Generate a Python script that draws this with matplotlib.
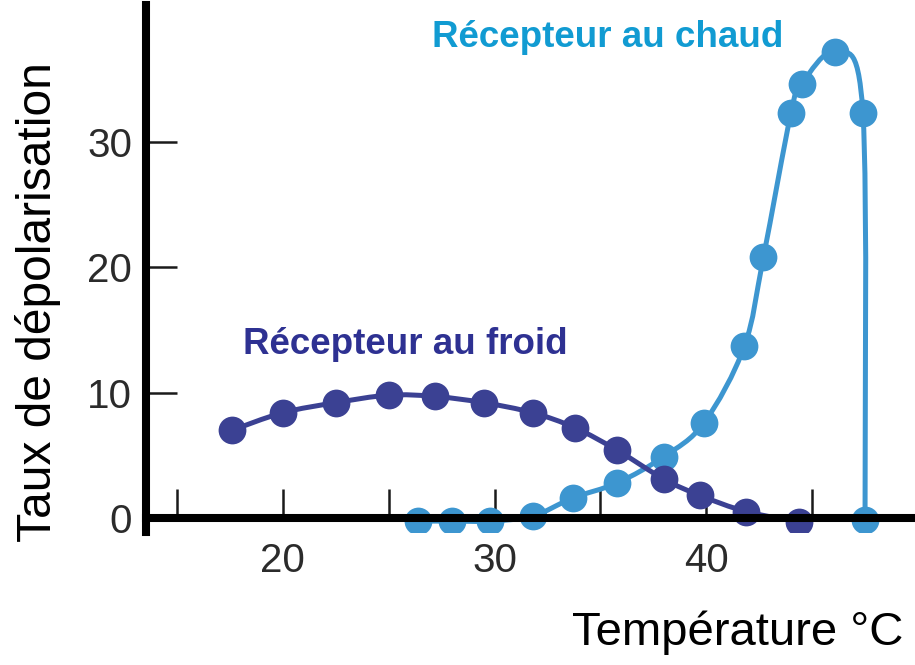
import numpy as np
import matplotlib
matplotlib.use("Agg")
import matplotlib.pyplot as plt
from matplotlib.path import Path
from matplotlib.patches import PathPatch

plt.rcParams['font.family'] = ['Liberation Sans', 'DejaVu Sans']

# donnees
cold_t = [17.6, 20.0, 22.5, 25.0, 27.2, 29.5, 31.8, 33.8, 35.8, 38.0, 39.7, 41.9, 44.4]
cold_v = [7.0, 8.4, 9.2, 9.8, 9.7, 9.2, 8.4, 7.2, 5.4, 3.1, 1.8, 0.5, -0.3]

hot_t = [26.4, 28.0, 29.8, 31.8, 33.7, 35.8, 38.0, 39.9, 41.8, 42.7, 44.0, 44.5, 46.1, 47.4, 47.5]
hot_v = [-0.25, -0.25, -0.25, 0.15, 1.6, 2.8, 4.9, 7.6, 13.7, 20.8, 32.3, 34.6, 37.2, 32.3, -0.15]

xticks_major = [20, 30, 40]
xticks_minor = [15, 25, 35, 45]
yticks = [0, 10, 20, 30]

cold_col = '#3b4193'
hot_col = '#3d96d0'


def smooth_path(xs, ys):
    # catmull-rom -> bezier cubique
    p = np.column_stack([xs, ys]).astype(float)
    p = np.vstack([p[0], p, p[-1]])
    verts = [p[1]]
    codes = [Path.MOVETO]
    for i in range(1, len(p) - 2):
        b1 = p[i] + (p[i + 1] - p[i - 1]) / 6
        b2 = p[i + 1] - (p[i + 2] - p[i]) / 6
        verts += [b1, b2, p[i + 1]]
        codes += [Path.CURVE4] * 3
    return Path(verts, codes)


fig = plt.figure(figsize=(9.15, 6.65), dpi=100)
ax = fig.add_axes([146 / 915, 0.2, 1 - 146 / 915, 0.7925])
ax.set_xlim(13.54, 49.86)
ax.set_ylim(-1.12, 40.94)
ax.set_axisbelow(True)

for xs, ys, c in [(hot_t, hot_v, hot_col), (cold_t, cold_v, cold_col)]:
    ax.add_patch(PathPatch(smooth_path(xs, ys), fill=False, edgecolor=c, lw=3.6, zorder=2))
    ax.plot(xs, ys, 'o', color=c, ms=20, mec='none', zorder=2.1)

for s in ['top', 'right']:
    ax.spines[s].set_visible(False)
ax.spines['bottom'].set_position(('data', 0))
ax.spines['bottom'].set_linewidth(5.8)
ax.spines['left'].set_linewidth(5.8)

ax.set_xticks(xticks_major)
ax.set_xticks(xticks_minor, minor=True)
ax.set_yticks(yticks)
ax.tick_params(axis='x', which='both', direction='in', length=21, width=1.8,
               color='#1a1a1a', pad=17, labelsize=29, labelcolor='#2b2b2b')
ax.tick_params(axis='y', direction='in', length=22, width=1.8,
               color='#1a1a1a', pad=10, labelsize=29, labelcolor='#2b2b2b')

fig.text(38 / 915, 1 - 302 / 665, 'Taux de dépolarisation', rotation=90,
         fontsize=34.5, ha='center', va='center')
fig.text(903 / 915, 1 - 645 / 665, 'Température °C', fontsize=34,
         ha='right', va='baseline')

fig.text(243 / 915, 1 - 354 / 665, 'Récepteur au froid', fontsize=26.5,
         fontweight='bold', color='#2e3192', va='baseline')
fig.text(432 / 915, 1 - 47 / 665, 'Récepteur au chaud', fontsize=26.5,
         fontweight='bold', color='#119bd2', va='baseline')

fig.savefig('out.png', dpi=100)
